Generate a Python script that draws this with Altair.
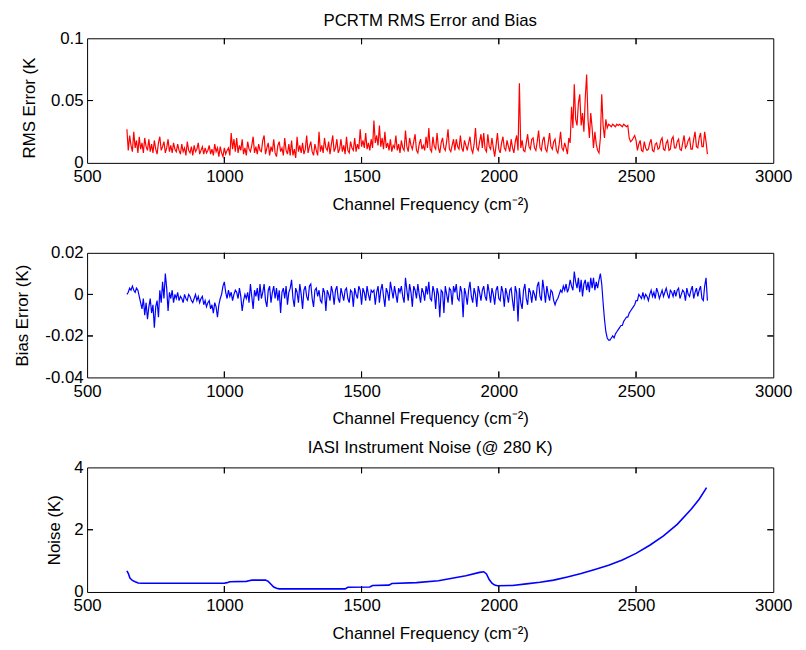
import altair as alt
import pandas as pd

# ---------------- data ----------------
freq = list(range(645, 2761, 5))  # channel frequency grid (cm-1)

rms_error = [
    0.027, 0.010, 0.022, 0.014, 0.009, 0.025, 0.012, 0.018, 0.008, 0.021, 0.011, 0.016, 0.008, 0.020, 0.013, 0.010, 0.019, 0.009, 0.015, 0.008,
    0.018, 0.011, 0.007, 0.016, 0.021, 0.010, 0.013, 0.017, 0.008, 0.012, 0.019, 0.009, 0.014, 0.008, 0.016, 0.011, 0.009, 0.015, 0.010, 0.007,
    0.015, 0.009, 0.012, 0.006, 0.017, 0.010, 0.008, 0.013, 0.006, 0.014, 0.009, 0.011, 0.016, 0.007, 0.010, 0.013, 0.007, 0.012, 0.008, 0.010,
    0.014, 0.007, 0.011, 0.006, 0.015, 0.009, 0.012, 0.005, 0.013, 0.008, 0.005, 0.012, 0.007, 0.010, 0.012, 0.006, 0.024, 0.011, 0.019, 0.009,
    0.020, 0.008, 0.014, 0.010, 0.019, 0.007, 0.012, 0.006, 0.017, 0.011, 0.009, 0.014, 0.021, 0.008, 0.013, 0.007, 0.015, 0.010, 0.009, 0.018,
    0.022, 0.007, 0.012, 0.016, 0.006, 0.013, 0.009, 0.019, 0.008, 0.005, 0.014, 0.017, 0.009, 0.012, 0.006, 0.020, 0.010, 0.007, 0.015, 0.006,
    0.018, 0.006, 0.011, 0.004, 0.021, 0.009, 0.014, 0.008, 0.016, 0.007, 0.011, 0.022, 0.008, 0.013, 0.017, 0.009, 0.006, 0.015, 0.010, 0.006,
    0.025, 0.009, 0.014, 0.008, 0.020, 0.012, 0.010, 0.017, 0.007, 0.015, 0.022, 0.009, 0.012, 0.019, 0.008, 0.011, 0.019, 0.009, 0.014, 0.007,
    0.021, 0.010, 0.008, 0.017, 0.012, 0.010, 0.020, 0.009, 0.015, 0.011, 0.027, 0.013, 0.018, 0.012, 0.024, 0.011, 0.016, 0.010, 0.019, 0.012,
    0.034, 0.016, 0.022, 0.014, 0.030, 0.013, 0.020, 0.011, 0.025, 0.012, 0.016, 0.010, 0.019, 0.009, 0.014, 0.012, 0.022, 0.010, 0.015, 0.008,
    0.018, 0.012, 0.010, 0.026, 0.013, 0.009, 0.020, 0.014, 0.011, 0.017, 0.023, 0.010, 0.008, 0.015, 0.019, 0.011, 0.014, 0.010, 0.021, 0.012,
    0.028, 0.011, 0.009, 0.021, 0.013, 0.011, 0.024, 0.012, 0.008, 0.016, 0.020, 0.012, 0.010, 0.017, 0.027, 0.011, 0.009, 0.014, 0.019, 0.010,
    0.019, 0.013, 0.011, 0.022, 0.012, 0.009, 0.018, 0.014, 0.010, 0.016, 0.021, 0.011, 0.008, 0.015, 0.028, 0.012, 0.010, 0.017, 0.023, 0.012,
    0.024, 0.011, 0.009, 0.023, 0.013, 0.011, 0.020, 0.012, 0.005, 0.014, 0.024, 0.011, 0.008, 0.016, 0.021, 0.012, 0.010, 0.018, 0.013, 0.009,
    0.019, 0.012, 0.008, 0.017, 0.022, 0.010, 0.064, 0.012, 0.018, 0.010, 0.009, 0.016, 0.023, 0.013, 0.011, 0.019, 0.020, 0.012, 0.010, 0.017,
    0.026, 0.012, 0.010, 0.018, 0.021, 0.011, 0.009, 0.016, 0.024, 0.013, 0.011, 0.017, 0.019, 0.010, 0.008, 0.015, 0.025, 0.012, 0.010, 0.016,
    0.012, 0.007, 0.020, 0.016, 0.045, 0.028, 0.063, 0.035, 0.030, 0.048, 0.055, 0.030, 0.040, 0.025, 0.052, 0.071, 0.035, 0.020, 0.040, 0.028,
    0.012, 0.025, 0.015, 0.010, 0.008, 0.020, 0.055, 0.030, 0.020, 0.035, 0.028, 0.031, 0.030, 0.029, 0.031, 0.030, 0.029, 0.031, 0.030, 0.031,
    0.030, 0.029, 0.031, 0.030, 0.029, 0.030, 0.020, 0.017, 0.018, 0.020, 0.022, 0.018, 0.010, 0.015, 0.018, 0.010, 0.009, 0.017, 0.012, 0.010,
    0.011, 0.016, 0.019, 0.010, 0.009, 0.015, 0.016, 0.011, 0.012, 0.018, 0.020, 0.011, 0.010, 0.016, 0.018, 0.010, 0.011, 0.019, 0.021, 0.012,
    0.012, 0.017, 0.019, 0.011, 0.010, 0.016, 0.022, 0.012, 0.014, 0.018, 0.020, 0.011, 0.011, 0.019, 0.025, 0.013, 0.012, 0.020, 0.024, 0.013,
    0.013, 0.025, 0.017, 0.007,
]

bias_error = [
    0.000, 0.001, 0.003, 0.002, 0.004, 0.002, 0.001, 0.003, 0.002, -0.001, -0.004, -0.007, -0.002, -0.010, -0.004, -0.012, -0.006, -0.002, -0.009, -0.005,
    -0.016, -0.006, -0.003, -0.011, 0.002, -0.004, 0.006, -0.002, 0.010, 0.003, -0.008, 0.001, -0.002, 0.002, -0.004, 0.000, -0.002, 0.001, -0.003, -0.001,
    -0.002, -0.004, 0.000, -0.002, -0.003, 0.000, -0.001, -0.003, -0.004, -0.002, 0.000, -0.003, -0.001, -0.004, -0.002, -0.001, -0.005, -0.003, -0.006, -0.004,
    -0.003, -0.007, -0.005, -0.009, -0.004, -0.006, -0.011, -0.005, -0.002, 0.000, 0.004, 0.006, 0.001, -0.002, 0.002, -0.001, 0.001, -0.003, 0.000, 0.002,
    0.001, -0.002, 0.003, -0.001, -0.008, -0.003, 0.000, -0.002, 0.001, -0.004, 0.005, -0.001, -0.007, 0.002, -0.001, 0.003, -0.003, 0.005, -0.002, 0.001,
    0.005, -0.003, -0.006, 0.002, 0.004, -0.004, 0.001, 0.004, -0.002, 0.003, -0.003, 0.002, -0.009, 0.001, 0.003, -0.002, 0.004, -0.005, 0.001, 0.003,
    0.007, -0.002, -0.006, 0.003, 0.001, -0.004, 0.005, 0.000, -0.007, 0.002, 0.004, -0.001, -0.003, 0.004, 0.005, -0.002, -0.006, 0.002, 0.003, -0.001,
    0.002, -0.003, -0.004, 0.003, 0.001, -0.008, 0.002, 0.000, -0.003, 0.004, 0.001, -0.005, 0.002, 0.004, -0.002, -0.004, 0.003, 0.000, -0.003, 0.002,
    0.003, -0.002, -0.004, 0.002, 0.001, -0.006, 0.003, 0.000, -0.002, 0.004, 0.002, -0.005, 0.003, 0.001, -0.003, 0.004, 0.000, -0.003, 0.002, 0.001,
    0.002, -0.005, 0.001, 0.004, -0.004, 0.002, 0.005, -0.001, -0.006, 0.003, 0.001, -0.003, 0.006, 0.002, -0.002, 0.004, 0.000, -0.004, 0.003, 0.001,
    0.004, -0.001, -0.004, 0.008, 0.002, -0.003, 0.005, 0.001, -0.006, 0.004, 0.002, -0.002, 0.005, 0.000, -0.004, 0.003, 0.001, -0.003, 0.004, 0.000,
    0.006, -0.002, -0.003, 0.004, 0.001, -0.007, 0.003, 0.000, -0.011, 0.002, 0.001, -0.009, 0.004, 0.000, -0.004, 0.003, 0.002, -0.005, 0.004, 0.001,
    0.005, -0.002, -0.003, 0.004, 0.001, -0.011, 0.003, 0.000, -0.005, 0.002, 0.006, -0.001, -0.004, 0.003, 0.000, -0.006, 0.004, 0.001, -0.003, 0.002,
    0.004, -0.001, -0.003, 0.005, 0.001, -0.004, 0.003, 0.000, -0.005, 0.002, 0.004, -0.002, -0.003, 0.004, 0.001, -0.006, 0.003, 0.000, -0.004, 0.002,
    0.003, -0.003, -0.008, 0.004, 0.001, -0.013, 0.003, -0.004, -0.007, 0.002, 0.005, -0.002, -0.005, 0.003, 0.001, -0.004, 0.002, 0.000, -0.003, 0.004,
    0.006, -0.001, -0.003, 0.007, 0.002, -0.004, 0.004, 0.000, -0.003, 0.002, 0.001, -0.003, -0.005, -0.003, -0.002, 0.000, 0.002, 0.001, 0.004, 0.002,
    0.005, 0.001, 0.003, 0.007, 0.004, 0.002, 0.011, 0.006, 0.003, 0.008, 0.001, 0.007, -0.001, 0.005, 0.007, 0.002, 0.006, 0.001, 0.008, 0.003,
    0.008, 0.002, 0.006, 0.003, 0.007, 0.010, 0.005, -0.004, -0.012, -0.018, -0.021, -0.022, -0.022, -0.021, -0.020, -0.021, -0.019, -0.018, -0.017, -0.016,
    -0.015, -0.015, -0.013, -0.012, -0.011, -0.011, -0.009, -0.008, -0.007, -0.006, -0.005, -0.003, -0.003, 0.000, -0.001, -0.002, 0.001, -0.002, 0.000, -0.001,
    -0.003, 0.000, 0.002, -0.001, 0.001, -0.002, 0.003, 0.001, -0.002, 0.000, 0.002, -0.001, 0.001, 0.003, 0.000, -0.002, 0.002, 0.001, -0.001, 0.002,
    -0.001, 0.002, 0.003, -0.002, 0.000, 0.002, 0.001, -0.003, 0.003, 0.000, -0.001, 0.002, 0.004, -0.002, 0.001, 0.003, -0.001, 0.002, 0.004, -0.002,
    -0.003, 0.004, 0.008, -0.003,
]

noise_freq = [645, 650, 656, 665, 675, 686, 700, 800, 900, 1000, 1010, 1020,
              1080, 1090, 1100, 1150, 1160, 1170, 1180, 1190, 1200, 1300, 1440,
              1450, 1530, 1540, 1600, 1610, 1700, 1780, 1830, 1880, 1930, 1945,
              1955, 1965, 1975, 1985, 1995, 2050, 2100, 2150, 2200, 2250, 2300,
              2350, 2400, 2450, 2500, 2550, 2600, 2650, 2700, 2730, 2757]
noise_k = [0.68, 0.60, 0.45, 0.37, 0.33, 0.29, 0.28, 0.28, 0.28, 0.28, 0.30, 0.33,
           0.34, 0.36, 0.38, 0.38, 0.34, 0.25, 0.16, 0.12, 0.10, 0.10, 0.10,
           0.15, 0.16, 0.21, 0.22, 0.27, 0.30, 0.36, 0.44, 0.52, 0.63, 0.65,
           0.58, 0.40, 0.28, 0.22, 0.20, 0.21, 0.26, 0.31, 0.38, 0.48, 0.59,
           0.72, 0.86, 1.03, 1.24, 1.50, 1.80, 2.17, 2.65, 2.98, 3.35]

x_tick_values = [500, 1000, 1500, 2000, 2500, 3000]
x_inner_ticks = [1000, 1500, 2000, 2500]
titles = ["PCRTM RMS Error and Bias", "IASI Instrument Noise (@ 280 K)"]

# ---------------- styling ----------------
FONT = "Liberation Sans"
FS = 17
W, H = 694, 126
X_TITLE = "Channel Frequency (cm\u207b\u00b2)"
TICK = 6


def panel(freqs, values, color, ydomain, yvalues, yinner, ytitle, title_x,
          title_y=None, title=None, title_top=0, width=1.2):
    df = pd.DataFrame({"freq": freqs, "val": values})
    xs = alt.Scale(domain=[500, 3000], nice=False, zero=False, padding=0)
    ys = alt.Scale(domain=ydomain, nice=False, zero=False, padding=0)
    yax = dict(orient="left", values=yvalues, title=ytitle, ticks=False, tickSize=0,
               domain=False, grid=False, labelPadding=4, labelFlush=False,
               labelExpr="'' + datum.value", titleX=title_x,
               titleBaseline="middle")
    if title_y is not None:
        yax["titleY"] = title_y
    xaxis = alt.Axis(orient="bottom", values=x_tick_values, title=X_TITLE, ticks=False,
                     tickSize=0, domain=False, grid=False, format="d",
                     labelFlush=False, labelPadding=6, titlePadding=12)
    line = alt.Chart(df).mark_line(color=color, strokeWidth=width).encode(
        x=alt.X("freq:Q", scale=xs, axis=xaxis),
        y=alt.Y("val:Q", scale=ys, axis=alt.Axis(**yax)),
    )
    tx = pd.DataFrame({"t": x_inner_ticks})
    ty = pd.DataFrame({"t": yinner})
    layers = [line]
    # inward ticks drawn as short rules along each edge of the frame
    for y0, y1 in ((H, H - TICK), (0, TICK)):
        layers.append(alt.Chart(tx).mark_rule(color="black", strokeWidth=1, opacity=1).encode(
            x=alt.X("t:Q", scale=xs, axis=None), y=alt.value(y0), y2=alt.value(y1)))
    for x0, x1 in ((0, TICK), (W, W - TICK)):
        layers.append(alt.Chart(ty).mark_rule(color="black", strokeWidth=1, opacity=1).encode(
            y=alt.Y("t:Q", scale=ys, axis=None), x=alt.value(x0), x2=alt.value(x1)))
    # the same ticks again as clipped tick marks centred on the frame edges
    tick_style = dict(color="black", opacity=1, thickness=1, size=2 * TICK, clip=True)
    for yv in (0, H):
        layers.append(alt.Chart(tx).mark_tick(orient="vertical", **tick_style).encode(
            x=alt.X("t:Q", scale=xs, axis=None), y=alt.value(yv)))
    for xv in (0, W):
        layers.append(alt.Chart(ty).mark_tick(orient="horizontal", **tick_style).encode(
            y=alt.Y("t:Q", scale=ys, axis=None), x=alt.value(xv)))
    if title:
        tdf = pd.DataFrame({"label": [title]})
        layers.append(
            alt.Chart(tdf).mark_text(font=FONT, fontSize=FS, color="black",
                                     align="center", baseline="top").encode(
                text="label:N", x=alt.value(W / 2), y=alt.value(-title_top))
        )
    return alt.layer(*layers).resolve_axis(x="independent", y="independent").properties(
        width=W, height=H)


p1 = panel(freq, rms_error, "#ff0000", [0, 0.1], [0, 0.05, 0.1], [0.05],
           "RMS Error (K", -58, title_y=70, title=titles[0], title_top=25)
p2 = panel(freq, bias_error, "#0000ff", [-0.04, 0.02], [-0.04, -0.02, 0, 0.02],
           [-0.02, 0], "Bias Error (K)", -65)
p3 = panel(noise_freq, noise_k, "#0000ff", [0, 4], [0, 2, 4], [2],
           "Noise (K)", -33, title=titles[1], title_top=28, width=1.6)

chart = alt.vconcat(p1, p2, p3, spacing=91, bounds="flush").properties(
    padding={"left": 5, "top": 0, "right": 5, "bottom": 0}
).configure_view(stroke="black", strokeWidth=1).configure_axis(
    labelFont=FONT, titleFont=FONT, labelFontSize=FS, titleFontSize=FS,
    labelColor="black", titleColor="black", titleFontWeight="normal"
)

chart.save("out.html", embed_options={"renderer": "svg", "actions": False})
